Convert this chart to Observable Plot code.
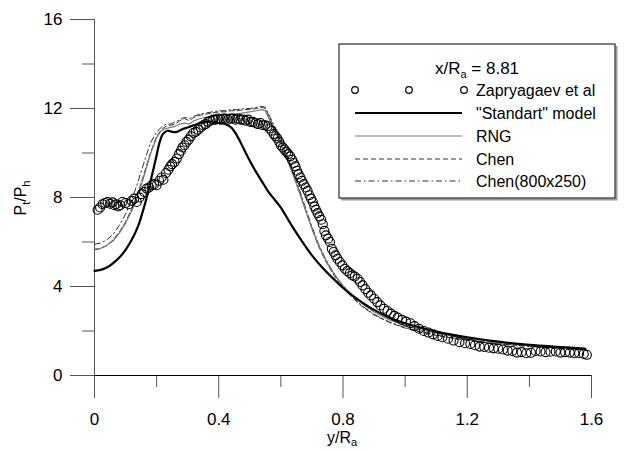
<!DOCTYPE html>
<html><head><meta charset="utf-8">
<script src="https://cdn.jsdelivr.net/npm/d3@7"></script>
<script src="https://cdn.jsdelivr.net/npm/@observablehq/plot@0.6"></script>
<style>body{margin:0;background:#fff} svg{display:block}</style>
</head><body><div id="chart"></div>
<script>
// ---- tick labels ----
const xMajor = [0, 0.4, 0.8, 1.2, 1.6];
const xMinor = [0.2, 0.6, 1.0, 1.4];
const yMajor = [0, 4, 8, 12, 16];
const yMinor = [2, 6, 10, 14];

// ---- legend / series names ----
const legendTitle = "x/R|a| = 8.81";
const seriesNames = ["Zapryagaev et al", "\"Standart\" model", "RNG", "Chen", "Chen(800x250)"];

// ---- experiment (Zapryagaev et al) ----
const expX = [0.010,0.018,0.026,0.034,0.042,0.050,0.058,0.064,0.070,0.076,0.083,0.090,0.100,0.110,0.120,0.128,0.136,0.145,0.152,0.160,0.168,0.176,0.184,0.192,0.200,0.208,0.216,0.222,0.230,0.238,0.244,0.250,0.258,0.265,0.272,0.278,0.283,0.290,0.296,0.303,0.310,0.318,0.326,0.334,0.342,0.350,0.358,0.366,0.374,0.382,0.390,0.398,0.406,0.414,0.422,0.430,0.438,0.446,0.454,0.462,0.470,0.478,0.486,0.494,0.502,0.510,0.518,0.526,0.534,0.542,0.550,0.557,0.563,0.570,0.577,0.583,0.589,0.595,0.600,0.606,0.612,0.618,0.624,0.630,0.636,0.642,0.647,0.652,0.657,0.663,0.668,0.674,0.680,0.686,0.692,0.697,0.703,0.708,0.713,0.718,0.724,0.730,0.735,0.740,0.745,0.752,0.758,0.764,0.770,0.776,0.782,0.790,0.798,0.806,0.814,0.822,0.830,0.838,0.847,0.855,0.863,0.872,0.881,0.890,0.900,0.910,0.920,0.932,0.943,0.954,0.965,0.976,0.990,1.003,1.017,1.030,1.045,1.060,1.075,1.090,1.105,1.120,1.138,1.156,1.175,1.193,1.210,1.225,1.240,1.255,1.270,1.285,1.300,1.315,1.330,1.345,1.360,1.375,1.390,1.405,1.420,1.436,1.452,1.468,1.485,1.500,1.515,1.530,1.545,1.560,1.575,1.585];
const expY = [7.45,7.55,7.70,7.75,7.80,7.72,7.78,7.65,7.70,7.60,7.65,7.80,7.75,7.70,7.85,7.95,7.80,8.00,8.15,8.25,8.40,8.45,8.55,8.60,8.55,8.75,8.90,8.80,9.10,9.25,9.40,9.50,9.60,9.75,9.95,10.10,10.25,10.35,10.50,10.60,10.75,10.90,10.95,11.05,11.15,11.25,11.30,11.40,11.45,11.50,11.50,11.55,11.50,11.55,11.55,11.50,11.55,11.55,11.50,11.55,11.50,11.50,11.45,11.50,11.40,11.40,11.35,11.30,11.35,11.25,11.25,11.20,11.10,11.00,10.85,10.75,10.65,10.50,10.35,10.25,10.15,10.05,9.95,9.85,9.70,9.55,9.40,9.20,9.05,8.90,8.75,8.60,8.45,8.30,8.10,7.95,7.80,7.60,7.45,7.30,7.15,7.00,6.80,6.50,6.30,6.15,6.00,5.70,5.55,5.40,5.25,5.10,4.95,4.80,4.70,4.60,4.50,4.45,4.35,4.20,4.05,3.88,3.72,3.60,3.45,3.30,3.15,3.00,2.90,2.78,2.68,2.60,2.50,2.42,2.35,2.22,2.10,2.00,1.93,1.85,1.78,1.72,1.65,1.57,1.50,1.45,1.42,1.36,1.30,1.28,1.25,1.22,1.20,1.17,1.12,1.10,1.03,1.05,1.00,1.02,1.10,1.08,1.05,1.07,1.08,1.03,1.05,1.03,1.00,1.00,0.97,0.93];

// ---- "Standart" model ----
const stdX = [0,0.02,0.04,0.06,0.08,0.10,0.12,0.14,0.155,0.17,0.185,0.20,0.21,0.22,0.235,0.25,0.265,0.28,0.30,0.32,0.34,0.36,0.38,0.40,0.42,0.44,0.46,0.48,0.50,0.52,0.54,0.56,0.58,0.60,0.63,0.66,0.70,0.74,0.78,0.82,0.86,0.90,0.95,1.00,1.05,1.10,1.20,1.30,1.40,1.50,1.58];
const stdY = [4.70,4.75,4.85,5.05,5.30,5.65,6.10,6.70,7.35,8.10,9.00,9.90,10.50,10.85,11.00,10.95,10.95,11.05,11.15,11.25,11.35,11.40,11.40,11.35,11.30,11.15,10.75,10.20,9.65,9.15,8.70,8.25,7.90,7.55,6.85,6.20,5.40,4.75,4.20,3.70,3.30,2.95,2.60,2.35,2.15,1.97,1.72,1.52,1.38,1.28,1.20];

// ---- RNG, Chen, Chen(800x250) share one x grid ----
const simX = [0,0.02,0.04,0.06,0.08,0.10,0.12,0.14,0.16,0.18,0.20,0.215,0.23,0.245,0.26,0.275,0.29,0.305,0.32,0.34,0.36,0.38,0.40,0.42,0.44,0.46,0.48,0.50,0.52,0.54,0.55,0.56,0.58,0.60,0.62,0.64,0.66,0.68,0.70,0.72,0.74,0.76,0.78,0.80,0.83,0.86,0.90,0.95,1.00,1.05,1.10,1.15,1.20,1.30,1.40,1.50,1.58];
const rngY = [5.68,5.72,5.85,6.05,6.40,6.85,7.40,8.10,9.00,9.95,10.70,11.00,11.10,11.15,11.20,11.30,11.35,11.30,11.45,11.55,11.60,11.65,11.70,11.70,11.75,11.75,11.80,11.85,11.90,11.95,11.90,11.60,11.00,10.40,9.70,9.00,8.20,7.40,6.60,5.90,5.30,4.80,4.40,4.05,3.60,3.25,2.85,2.50,2.25,2.05,1.90,1.78,1.67,1.50,1.38,1.28,1.22];
const chenY = [5.65,5.70,5.85,6.10,6.45,6.90,7.50,8.20,9.10,10.00,10.75,11.05,11.20,11.25,11.30,11.45,11.55,11.45,11.60,11.70,11.75,11.80,11.85,11.85,11.90,11.90,11.95,11.95,12.00,12.05,12.00,11.70,11.10,10.50,9.80,9.05,8.25,7.40,6.60,5.85,5.25,4.75,4.30,3.95,3.50,3.12,2.72,2.38,2.13,1.95,1.80,1.68,1.58,1.42,1.30,1.20,1.14];
const chen800Y = [5.90,5.95,6.10,6.35,6.75,7.25,7.90,8.70,9.60,10.45,10.95,11.15,11.30,11.30,11.40,11.50,11.60,11.55,11.65,11.75,11.80,11.85,11.90,11.90,11.95,11.95,12.00,12.00,12.05,12.10,12.05,11.75,11.20,10.60,9.90,9.15,8.35,7.50,6.70,5.95,5.35,4.85,4.40,4.00,3.55,3.15,2.75,2.40,2.15,1.97,1.82,1.70,1.60,1.44,1.32,1.22,1.16];

const toRows = (xs, ys) => xs.map((x, i) => ({x, y: ys[i]}));
const exp = toRows(expX, expY);
const std = toRows(stdX, stdY);
const rng = toRows(simX, rngY);
const chen = toRows(simX, chenY);
const chen800 = toRows(simX, chen800Y);

const FONT = "'Liberation Sans', Arial, Helvetica, sans-serif";
const styles = {
  std: {stroke: "#000", strokeWidth: 2.2},
  rng: {stroke: "#777", strokeWidth: 1.2},
  chen: {stroke: "#333", strokeWidth: 1, strokeDasharray: "5,3"},
  chen800: {stroke: "#333", strokeWidth: 1, strokeDasharray: "6,3,1.5,3"}
};

const plot = Plot.plot({
  width: 640, height: 450,
  marginLeft: 94, marginRight: 49, marginTop: 19, marginBottom: 75,
  style: {fontFamily: FONT, fontSize: "17px", background: "#fff", color: "#000"},
  x: {domain: [0, 1.6]},
  y: {domain: [0, 16]},
  marks: [
    Plot.axisX({ticks: xMajor, tickSize: 23, tickPadding: 14, fontSize: 17, stroke: "#555", tickFormat: d => String(d), label: null}),
    Plot.axisX({ticks: xMinor, tickSize: 12, stroke: "#555", tickFormat: () => "", label: null}),
    Plot.axisY({ticks: yMajor, tickSize: 24, tickPadding: 8, fontSize: 17, stroke: "#555", tickFormat: d => String(d), label: null}),
    Plot.axisY({ticks: yMinor, tickSize: 12, stroke: "#555", tickFormat: () => "", label: null}),
    Plot.ruleY([0], {stroke: "#000"}),
    Plot.ruleX([0], {y1: 0, y2: 16, stroke: "#555"}),
    Plot.line(chen800, {x: "x", y: "y", ...styles.chen800}),
    Plot.line(chen, {x: "x", y: "y", ...styles.chen}),
    Plot.line(rng, {x: "x", y: "y", ...styles.rng}),
    Plot.line(std, {x: "x", y: "y", ...styles.std, curve: "catmull-rom"}),
    Plot.dot(exp, {x: "x", y: "y", r: 4.5, stroke: "#000", strokeWidth: 1.1, fill: "none"})
  ]
});
document.getElementById("chart").appendChild(plot);

const svg = d3.select(plot);
// axis labels with subscripts
const xl = svg.append("text").attr("x", 342).attr("y", 443).attr("text-anchor", "middle")
  .style("font-family", FONT).style("font-size", "16px").attr("fill", "#000");
xl.append("tspan").text("y/R");
xl.append("tspan").attr("dy", 3).style("font-size", "11px").text("a");

const yl = svg.append("text").attr("transform", "translate(26,198) rotate(-90)").attr("text-anchor", "middle")
  .style("font-family", FONT).style("font-size", "16px").attr("fill", "#000");
yl.append("tspan").text("P");
yl.append("tspan").attr("dy", 4).style("font-size", "11px").text("t");
yl.append("tspan").attr("dy", -4).text("/P");
yl.append("tspan").attr("dy", 4).style("font-size", "11px").text("h");

// legend
const L = {x0: 339, y0: 44, x1: 615, y1: 198};
const lg = svg.append("g");
lg.append("path").attr("d", `M${L.x0 + 2},${L.y1 + 1.5}H${L.x1 + 1.5}V${L.y0 + 2}`).attr("fill", "none").attr("stroke", "#999").attr("stroke-width", 2);
lg.append("rect").attr("x", L.x0).attr("y", L.y0).attr("width", L.x1 - L.x0).attr("height", L.y1 - L.y0)
  .attr("fill", "#fff").attr("stroke", "#000").attr("stroke-width", 1);
const tparts = legendTitle.split("|");
const tt = lg.append("text").attr("x", (L.x0 + L.x1) / 2).attr("y", 74).attr("text-anchor", "middle")
  .style("font-family", FONT).style("font-size", "17px");
tt.append("tspan").text(tparts[0]);
tt.append("tspan").attr("dy", 4).style("font-size", "11px").text(tparts[1]);
tt.append("tspan").attr("dy", -4).text(tparts[2]);

const rows = [90, 113, 136, 159, 181];
const sx0 = 355, sx1 = 462, tx = 476;
[355, 409, 464].forEach(cx => lg.append("circle").attr("cx", cx).attr("cy", rows[0]).attr("r", 3.3)
  .attr("fill", "none").attr("stroke", "#000").attr("stroke-width", 1.2));
[styles.std, styles.rng, styles.chen, styles.chen800].forEach((s, i) => {
  const ln = lg.append("line").attr("x1", sx0).attr("x2", sx1).attr("y1", rows[i + 1]).attr("y2", rows[i + 1])
    .attr("stroke", s.stroke).attr("stroke-width", s.strokeWidth);
  if (s.strokeDasharray) ln.attr("stroke-dasharray", s.strokeDasharray);
});
seriesNames.forEach((n, i) => lg.append("text").attr("x", tx).attr("y", rows[i] + 5.5).attr("text-anchor", "start")
  .style("font-family", FONT).style("font-size", "16px").text(n));
</script></body></html>
